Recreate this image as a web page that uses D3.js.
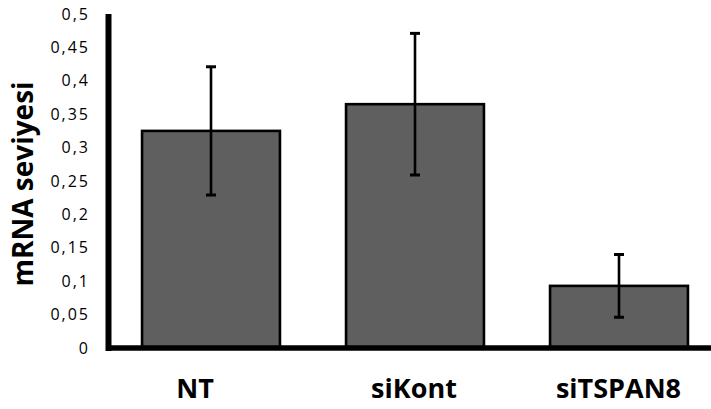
<!DOCTYPE html>
<html>
<head>
<meta charset="utf-8">
<script src="https://cdn.jsdelivr.net/npm/d3@7"></script>
<style>
  html, body { margin: 0; padding: 0; background: #fff; }
  svg { display: block; }
</style>
</head>
<body>
<svg id="chart" width="711" height="409"></svg>
<script>
// mRNA levels per condition, with standard deviation
const categories = ["NT", "siKont", "siTSPAN8"];
const values = [0.325, 0.365, 0.093];
const errors = [0.096, 0.106, 0.047];
const yTicks = [0, 0.05, 0.1, 0.15, 0.2, 0.25, 0.3, 0.35, 0.4, 0.45, 0.5];
const yTitle = "mRNA seviyesi";

const svg = d3.select("#chart");
const W = 711, H = 409;

const y = d3.scaleLinear().domain([0, 0.5]).range([348, 14]);
const x = d3.scaleBand()
  .domain(categories)
  .range([109, 721])
  .paddingInner(0.324)
  .paddingOuter(0.162);

const fmt = v => String(v).replace(".", ",");

// bars
svg.append("g").selectAll("rect")
  .data(categories)
  .join("rect")
  .attr("x", d => x(d))
  .attr("y", (d, i) => y(values[i]))
  .attr("width", x.bandwidth())
  .attr("height", (d, i) => y(0) - y(values[i]))
  .attr("fill", "#5f5f5f")
  .attr("stroke", "#000")
  .attr("stroke-width", 2.6);

// error bars
const eb = svg.append("g").attr("stroke", "#000");
categories.forEach((c, i) => {
  const cx = x(c) + x.bandwidth() / 2;
  const hi = y(values[i] + errors[i]);
  const lo = y(values[i] - errors[i]);
  eb.append("line").attr("x1", cx).attr("x2", cx).attr("y1", hi).attr("y2", lo).attr("stroke-width", 2.6);
  [hi, lo].forEach(v => eb.append("line")
    .attr("x1", cx - 5).attr("x2", cx + 5).attr("y1", v).attr("y2", v).attr("stroke-width", 3));
});

// y axis
const yAxis = d3.axisLeft(y).tickValues(yTicks).tickSize(0).tickPadding(18.5).tickFormat(fmt);
const gy = svg.append("g").attr("transform", "translate(108.5,0)").call(yAxis);
gy.select(".domain").remove();
gy.selectAll("text")
  .attr("font-family", "Open Sans")
  .attr("font-size", 16)
  .attr("letter-spacing", 2)
  .attr("fill", "#000");

// axis lines
svg.append("line").attr("x1", 108.5).attr("x2", 108.5).attr("y1", 14).attr("y2", 351)
  .attr("stroke", "#000").attr("stroke-width", 6);
svg.append("line").attr("x1", 106).attr("x2", W).attr("y1", 348).attr("y2", 348)
  .attr("stroke", "#000").attr("stroke-width", 5.5);

// category labels
const labelShift = [-16, -1, -0.5];
svg.append("g").selectAll("text")
  .data(categories)
  .join("text")
  .attr("x", (d, i) => x(d) + x.bandwidth() / 2 + labelShift[i])
  .attr("y", 398)
  .attr("text-anchor", "middle")
  .attr("font-family", "Open Sans")
  .attr("font-weight", "bold")
  .attr("font-size", 27)
  .attr("fill", "#000")
  .text(d => d);

// y title
svg.append("text")
  .attr("transform", "translate(33,184) rotate(-90)")
  .attr("text-anchor", "middle")
  .attr("font-family", "Open Sans")
  .attr("font-weight", "bold")
  .attr("font-size", 28)
  .attr("fill", "#000")
  .text(yTitle);
</script>
</body>
</html>
